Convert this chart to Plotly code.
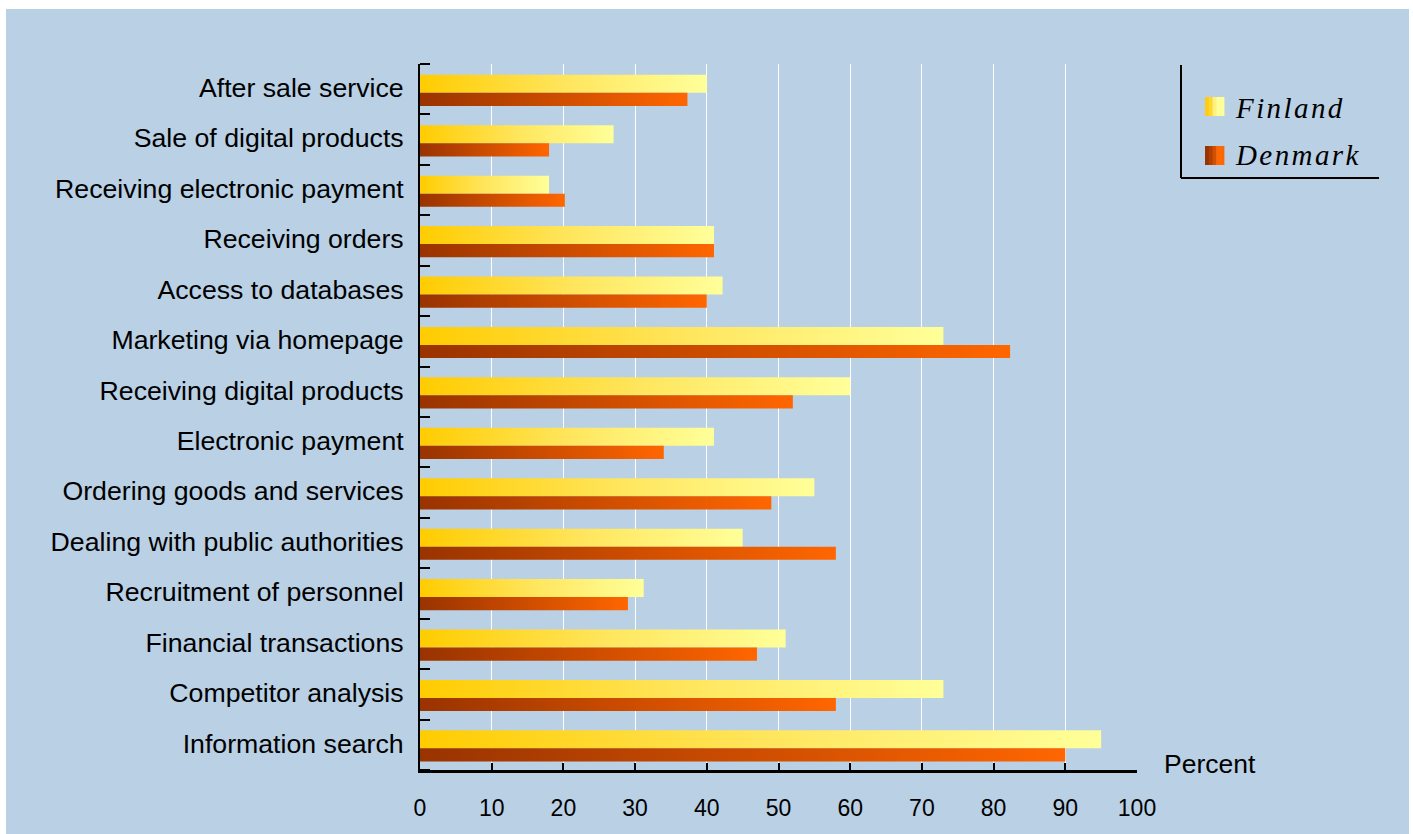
import plotly.graph_objects as go

# ---------------- data (top to bottom as in the chart) ----------------
categories = [
    "After sale service",
    "Sale of digital products",
    "Receiving electronic payment",
    "Receiving orders",
    "Access to databases",
    "Marketing via homepage",
    "Receiving digital products",
    "Electronic payment",
    "Ordering goods and services",
    "Dealing with public authorities",
    "Recruitment of personnel",
    "Financial transactions",
    "Competitor analysis",
    "Information search",
]
finland = [40, 27, 18, 41, 42.2, 73, 60, 41, 55, 45, 31.2, 51, 73, 95]
denmark = [37.3, 18, 20.2, 41, 40, 82.3, 52, 34, 49, 58, 29, 47, 58, 90]
x_ticks = [0, 10, 20, 30, 40, 50, 60, 70, 80, 90, 100]
series_names = ["Finland", "Denmark"]

# ---------------- style ----------------
BG = "#B9D0E5"
FIN_SCALE = [[0, "#FFCC00"], [0.5, "#FFE55C"], [1, "#FFFF99"]]
DEN_SCALE = [[0, "#993300"], [1, "#FF6600"]]
W, H = 1413, 834
ML, MR, MT, MB = 420, 276, 64, 64
PW, PH = W - ML - MR, H - MT - MB

# bar placement within each category band (band height = 1)
FIN_TOP, MID, DEN_BOT = 0.786, 0.429, 0.168
LABEL_POS = 0.53

n = len(categories)
fig = go.Figure()

for idx, cat in enumerate(categories):
    band = n - 1 - idx  # bottom band = 0
    for val, top, bot, scale in (
        (finland[idx], band + FIN_TOP, band + MID, FIN_SCALE),
        (denmark[idx], band + MID, band + DEN_BOT, DEN_SCALE),
    ):
        fig.add_trace(go.Scatter(
            x=[0, val, val, 0, 0],
            y=[bot, bot, top, top, bot],
            mode="lines",
            line=dict(width=0),
            fill="toself",
            fillgradient=dict(type="horizontal", colorscale=scale),
            hoverinfo="skip",
            showlegend=False,
        ))


def px(x):
    return (x - ML) / PW


def py(y):
    return (MT + PH - y) / PH


shapes = [
    # blue background with white border
    dict(type="rect", xref="paper", yref="paper",
         x0=px(6), x1=px(1409), y0=py(850), y1=py(9),
         fillcolor=BG, line=dict(width=0), layer="below"),
    # legend frame lines
    dict(type="line", xref="paper", yref="paper",
         x0=px(1181), x1=px(1181), y0=py(65), y1=py(178),
         line=dict(color="black", width=2)),
    dict(type="line", xref="paper", yref="paper",
         x0=px(1181), x1=px(1379), y0=py(178), y1=py(178),
         line=dict(color="black", width=2)),
]

# legend swatches as stepped strips
swatch_strips = [
    ["#FFCC11", "#FFD633", "#FFF080", "#FFFF99", "#FFFF99"],
    ["#993300", "#B04000", "#D45000", "#FF6600", "#FF6600"],
]
swatch_y = [(97, 116), (146, 165)]
sx0, sx1 = 1205, 1224
for strips, (ya, yb) in zip(swatch_strips, swatch_y):
    step = (sx1 - sx0) / len(strips)
    for k, c in enumerate(strips):
        shapes.append(dict(type="rect", xref="paper", yref="paper",
                           x0=px(sx0 + k * step), x1=px(sx0 + (k + 1) * step + 0.4),
                           y0=py(yb), y1=py(ya),
                           fillcolor=c, line=dict(width=0)))

HS = "\u200a"
annotations = [
    dict(text="Percent", xref="paper", yref="paper", x=px(1162), y=py(764),
         xanchor="left", yanchor="middle", showarrow=False,
         font=dict(family="Liberation Sans", size=26.5, color="black")),
]
for name, yc in zip(series_names, [108, 155]):
    spaced = HS.join(list(name))
    annotations.append(dict(
        text=spaced, xref="paper", yref="paper", x=px(1233), y=py(yc),
        xanchor="left", yanchor="middle", showarrow=False,
        font=dict(family="Liberation Serif", size=29, color="black", style="italic")))

fig.update_layout(
    width=W, height=H,
    margin=dict(l=ML, r=MR, t=MT, b=MB, pad=0),
    paper_bgcolor="white",
    plot_bgcolor=BG,
    showlegend=False,
    shapes=shapes,
    annotations=annotations,
    font=dict(family="Liberation Sans", color="black"),
)
fig.update_xaxes(
    range=[0, 100], tickvals=x_ticks, ticktext=[str(t) for t in x_ticks],
    showgrid=True, gridcolor="white", gridwidth=1,
    showline=True, linecolor="black", linewidth=3,
    ticks="inside", ticklen=7, tickwidth=2, tickcolor="black",
    ticklabelstandoff=15,
    tickfont=dict(family="Liberation Sans", size=23, color="black"),
    zeroline=False, fixedrange=True,
)
fig.update_yaxes(
    range=[0, n],
    tickvals=[n - 1 - i + LABEL_POS for i in range(n)], ticktext=categories,
    ticks="", showgrid=False, zeroline=False,
    showline=True, linecolor="black", linewidth=2,
    minor=dict(tick0=0, dtick=1, ticks="inside", ticklen=10, tickwidth=2,
               tickcolor="black", showgrid=False),
    ticklabelstandoff=9,
    tickfont=dict(family="Liberation Sans", size=26.7, color="black"),
    fixedrange=True,
)

fig.write_html("out.html")
